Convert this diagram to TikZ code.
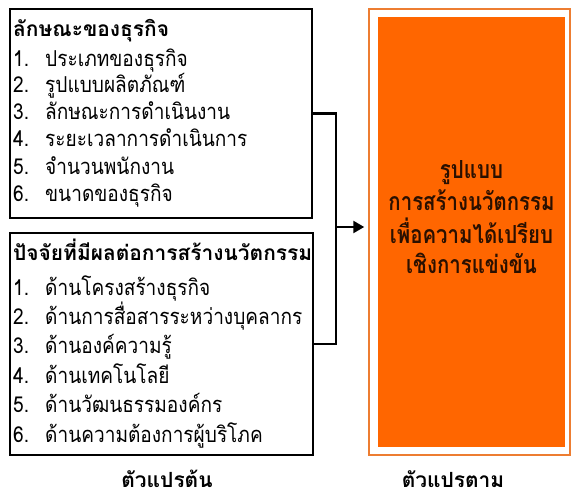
\documentclass[tikz,border=0pt]{standalone}
\usepackage{fontspec}
\newfontfamily\thai[Script=Thai]{Loma}
\newfontfamily\thaiN[Script=Thai, FakeStretch=0.87]{Loma}
\newfontfamily\thaiO[Script=Thai, FakeStretch=0.82]{Loma}
\usetikzlibrary{arrows.meta}
\definecolor{orfill}{HTML}{FF6600}
\definecolor{orline}{HTML}{ED7D31}
\definecolor{ortext}{HTML}{2A1000}
\tikzset{
  box/.style={draw=black, line width=2pt, rectangle, inner sep=0pt},
  itemtxt/.style={anchor=base west, inner sep=0pt, font=\thaiN\fontsize{22}{26}\selectfont},
  headtxt/.style={anchor=base west, inner sep=0pt, font=\thai\bfseries\fontsize{21}{25}\selectfont},
  conn/.style={line width=2.5pt, black},
  outtxt/.style={anchor=base, inner sep=0pt, text=ortext, font=\thaiO\bfseries\fontsize{25}{29}\selectfont},
  lbl/.style={anchor=base, inner sep=0pt, font=\thai\bfseries\fontsize{21}{25}\selectfont},
}
\begin{document}
\begin{tikzpicture}[x=1bp,y=-1bp]
\useasboundingbox (0,0) rectangle (571,499);
% left boxes
\node[box, minimum width=302bp, minimum height=209bp] (b1) at (161,113.5) {};
\node[box, minimum width=303bp, minimum height=222bp] (b2) at (161.5,344) {};
% box 1 text
\node[headtxt] (h1) at (13,37) {ลักษณะของธุรกิจ};
\foreach \i/\t [count=\k] in {67/ประเภทของธุรกิจ,93/รูปแบบผลิตภัณฑ์,120/ลักษณะการดำเนินงาน,147/ระยะเวลาการดำเนินการ,175/จำนวนพนักงาน,202/ขนาดของธุรกิจ}{
  \node[itemtxt] (n1\k) at (13,\i) {\k.};
  \node[itemtxt] (t1\k) at (45,\i) {\t};
}
% box 2 text
\node[headtxt] (h2) at (13,260) {ปัจจัยที่มีผลต่อการสร้างนวัตกรรม};
\foreach \i/\t [count=\k] in {295/ด้านโครงสร้างธุรกิจ,324.4/ด้านการสื่อสารระหว่างบุคลากร,353.8/ด้านองค์ความรู้,383.2/ด้านเทคโนโลยี,412.6/ด้านวัฒนธรรมองค์กร,442/ด้านความต้องการผู้บริโภค}{
  \node[itemtxt] (n2\k) at (13,\i) {\k.};
  \node[itemtxt] (t2\k) at (45,\i) {\t};
}
% orange output
\node[draw=orline, line width=1.5pt, minimum width=201bp, minimum height=446bp, inner sep=0pt] (out) at (469.5,232) {};
\node[fill=orfill, minimum width=187bp, minimum height=430bp, inner sep=0pt] (outin) at (471.5,232) {};
\node[outtxt] (o1) at (471.5,179) {รูปแบบ};
\node[outtxt] (o2) at (471.5,211) {การสร้างนวัตกรรม};
\node[outtxt] (o3) at (471.5,243) {เพื่อความได้เปรียบ};
\node[outtxt] (o4) at (471.5,273) {เชิงการแข่งขัน};
% labels
\node[lbl] (l1) at (167,487) {ตัวแปรต้น};
\node[lbl] (l2) at (453,487) {ตัวแปรตาม};
% connectors
\coordinate (j) at (336,227);
\draw[conn] (b1.east) -| (j) |- (b2.east);
\draw[conn, -{Triangle[length=11bp,width=12bp]}, shorten >=4bp] (j) -- (out.west |- j);
\end{tikzpicture}
\end{document}
